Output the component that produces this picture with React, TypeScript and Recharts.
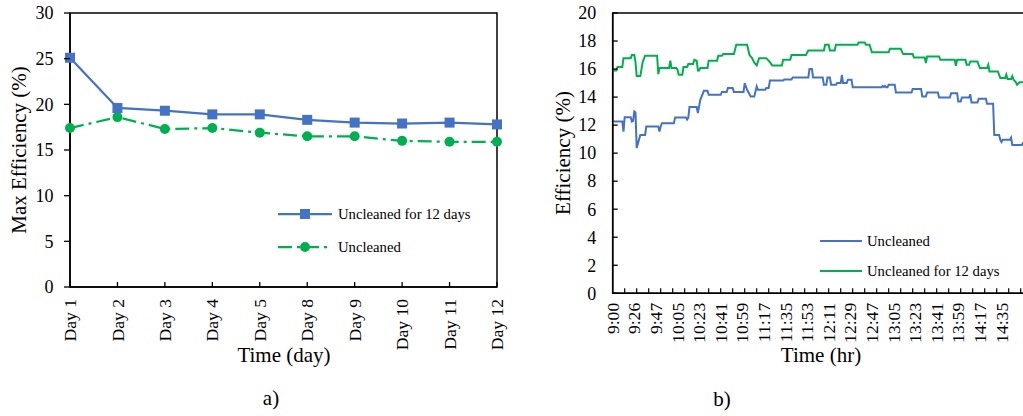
import React from "react"
import { LineChart, Line, XAxis, YAxis, ReferenceArea } from "recharts"

const FONT = '"Liberation Serif", "Times New Roman", serif'
const BLUE = "#4472C4"
const GREEN = "#00B050"

// a) daily maximum efficiency
const days = ["Day 1", "Day 2", "Day 3", "Day 4", "Day 5", "Day 8", "Day 9", "Day 10", "Day 11", "Day 12"]
const uncleaned12Max = [25.1, 19.6, 19.3, 18.9, 18.9, 18.3, 18.0, 17.9, 18.0, 17.8]
const uncleanedMax = [17.4, 18.6, 17.3, 17.4, 16.9, 16.5, 16.5, 16.0, 15.9, 15.9]
const maxTicks = [0, 5, 10, 15, 20, 25, 30]

// b) efficiency over one day, sample index -> efficiency (%)
const timeLabels = [
  "9:00", "9:26", "9:47", "10:05", "10:23", "10:41", "10:59", "11:17", "11:35", "11:53",
  "12:11", "12:29", "12:47", "13:05", "13:23", "13:41", "13:59", "14:17", "14:35",
]
const effTicks = [0, 2, 4, 6, 8, 10, 12, 14, 16, 18, 20]
const LAST_SAMPLE = 345
const LABEL_EVERY = 18
const MARK_EVERY = 10

const uncleanedTrace: [number, number][] = [
  [0, 12.26], [8, 12.26], [9, 11.54], [10, 12.57], [15, 12.57], [16, 12.26], [17, 12.3], [18, 12.97],
  [19, 12.9], [20, 10.36], [22, 11.0], [23, 11.3], [27, 11.3], [28, 11.9], [38, 11.9], [39, 11.54],
  [40, 11.9], [41, 12.14], [51, 12.14], [52, 12.54], [61, 12.54], [62, 12.4], [63, 12.54], [64, 13.29],
  [70, 13.29], [71, 12.86], [73, 13.8], [76, 14.45], [79, 14.45], [80, 14.16], [90, 14.16], [91, 14.36],
  [95, 14.36], [96, 14.64], [100, 14.64], [101, 14.36], [109, 14.36], [110, 15.0], [112, 14.52],
  [115, 14.04], [118, 14.04], [120, 14.76], [121, 14.52], [127, 14.52], [128, 14.64], [130, 14.64],
  [131, 15.19], [142, 15.19], [143, 15.26], [149, 15.26], [150, 15.4], [163, 15.4], [164, 16.0],
  [166, 16.0], [167, 15.4], [175, 15.4], [176, 14.88], [178, 14.88], [179, 15.4], [181, 15.4],
  [182, 14.88], [186, 14.88], [187, 15.0], [190, 15.0], [191, 15.59], [192, 15.0], [195, 15.0],
  [196, 15.24], [199, 15.24], [200, 14.71], [224, 14.71], [225, 14.8], [226, 14.71], [227, 14.8],
  [228, 14.71], [229, 14.71], [230, 14.88], [235, 14.88], [236, 14.33], [249, 14.33], [250, 14.57],
  [257, 14.57], [258, 14.04], [261, 14.04], [262, 14.33], [271, 14.33], [272, 13.97], [281, 13.97],
  [282, 14.28], [287, 14.28], [288, 13.69], [290, 13.69], [291, 13.97], [297, 13.97], [298, 14.2],
  [299, 13.62], [304, 13.62], [305, 13.88], [311, 13.88], [312, 13.52], [317, 13.52], [318, 11.3],
  [322, 11.3], [323, 10.95], [324, 10.8], [325, 10.95], [331, 10.95], [332, 11.1], [333, 10.59],
  [341, 10.59], [342, 10.75], [345, 10.75],
]

const uncleaned12Trace: [number, number][] = [
  [0, 15.9], [3, 15.9], [4, 16.14], [8, 16.14], [9, 16.78], [15, 16.78], [16, 17.0], [18, 17.0],
  [19, 16.5], [20, 15.5], [23, 15.5], [25, 16.5], [27, 16.95], [37, 16.95], [38, 15.64], [39, 16.07],
  [47, 16.07], [48, 16.6], [49, 16.07], [53, 16.07], [54, 15.95], [55, 15.6], [58, 15.6], [59, 16.14],
  [62, 16.14], [63, 16.36], [67, 16.36], [68, 16.66], [70, 16.6], [71, 15.9], [72, 15.9], [73, 16.07],
  [79, 16.07], [80, 16.6], [87, 16.6], [88, 16.95], [91, 16.95], [92, 17.07], [101, 17.07],
  [103, 17.74], [112, 17.74], [114, 17.0], [116, 16.8], [118, 16.45], [120, 16.26], [122, 16.78],
  [128, 16.78], [130, 16.6], [133, 16.26], [141, 16.26], [142, 16.66], [148, 16.66], [149, 17.0],
  [161, 17.0], [163, 17.33], [176, 17.33], [177, 17.74], [180, 17.74], [181, 17.33], [185, 17.33],
  [186, 17.74], [204, 17.74], [205, 17.9], [210, 17.9], [211, 17.74], [214, 17.74], [216, 17.2],
  [230, 17.2], [231, 17.45], [240, 17.45], [242, 17.07], [250, 17.07], [251, 16.83], [260, 16.83],
  [261, 16.43], [262, 16.9], [272, 16.9], [273, 16.66], [285, 16.66], [286, 16.23], [287, 16.66],
  [294, 16.66], [295, 16.3], [297, 16.3], [298, 16.54], [304, 16.54], [305, 16.3], [306, 16.07],
  [312, 16.07], [313, 16.3], [314, 15.83], [321, 15.83], [323, 15.36], [327, 15.36], [328, 15.6],
  [329, 15.29], [332, 15.29], [333, 15.5], [334, 15.25], [336, 15.05], [337, 14.88], [339, 15.05],
  [345, 15.05],
]

const dailyData = days.map((day, i) => ({ day, clean12: uncleaned12Max[i], unclean: uncleanedMax[i] }))
const toPoints = (trace: [number, number][]) => trace.map(([i, v]) => ({ i, v }))

// one tick list: marks every 10 samples, labels every 18
const sampleTicks = Array.from(
  new Set([
    ...timeLabels.map((_, k) => k * LABEL_EVERY),
    ...Array.from({ length: Math.floor(LAST_SAMPLE / MARK_EVERY) }, (_, k) => (k + 1) * MARK_EVERY),
  ])
).sort((a, b) => a - b)

const makeYTick = (inward: boolean) => ({ x, y, payload }: any) => (
  <g>
    <line x1={x} x2={inward ? x + 5 : x - 6} y1={y} y2={y} stroke="#000" strokeWidth={1.3} />
    <text x={x - 16.5} y={y} dy="0.35em" textAnchor="end" fontFamily={FONT} fontSize={18} fill="#000">
      {payload.value}
    </text>
  </g>
)

const DayTick = ({ x, y, payload }: any) => (
  <g>
    <line x1={x} x2={x} y1={y} y2={y - 5} stroke="#000" strokeWidth={1.3} />
    <text
      x={x}
      y={y + 12}
      dy="0.35em"
      textAnchor="end"
      transform={`rotate(-90 ${x} ${y + 12})`}
      fontFamily={FONT}
      fontSize={17.6}
      fill="#000"
    >
      {payload.value}
    </text>
  </g>
)

const TimeTick = ({ x, y, payload }: any) => {
  const v = payload.value as number
  return (
    <g>
      {v > 0 && v % MARK_EVERY === 0 && (
        <line x1={x} x2={x} y1={y} y2={y - 5} stroke="#000" strokeWidth={1.2} />
      )}
      {v % LABEL_EVERY === 0 && (
        <text
          x={x}
          y={y + 9.5}
          dy="0.35em"
          textAnchor="end"
          transform={`rotate(-90 ${x} ${y + 9.5})`}
          fontFamily={FONT}
          fontSize={17.6}
          fill="#000"
        >
          {timeLabels[v / LABEL_EVERY]}
        </text>
      )}
    </g>
  )
}

const SquareDot = (p: any) => (
  <rect key={`sq-${p.index}`} x={p.cx - 5} y={p.cy - 5} width={10} height={10} fill={BLUE} />
)
const RoundDot = (p: any) => <circle key={`ci-${p.index}`} cx={p.cx} cy={p.cy} r={5} fill={GREEN} />

const axisLine = { stroke: "#000", strokeWidth: 1.5 }
const textStyle = { fontFamily: FONT, fill: "#000" }

export default function App() {
  return (
    <div
      style={{
        position: "absolute",
        left: 0,
        top: 0,
        width: 1023,
        height: 416,
        overflow: "hidden",
        background: "#fff",
      }}
    >
      <div style={{ position: "absolute", left: 0, top: 0 }}>
        <LineChart width={520} height={416} data={dailyData} margin={{ top: 13, right: 23, left: 10, bottom: 69 }}>
          <XAxis
            dataKey="day"
            height={60}
            axisLine={axisLine}
            tickLine={false}
            tickSize={0}
            tickMargin={0}
            interval={0}
            tick={DayTick}
          />
          <YAxis
            width={60}
            domain={[0, 30]}
            ticks={maxTicks}
            axisLine={axisLine}
            tickLine={false}
            tickSize={0}
            tickMargin={0}
            interval={0}
            tick={makeYTick(false)}
          />
          <ReferenceArea x1="Day 1" x2="Day 12" y1={0} y2={30} fill="none" stroke="#000" strokeWidth={1.5} />
          <Line
            dataKey="unclean"
            stroke={GREEN}
            strokeWidth={2.25}
            strokeDasharray="14 5 3 5"
            dot={RoundDot}
            isAnimationActive={false}
          />
          <Line dataKey="clean12" stroke={BLUE} strokeWidth={2.25} dot={SquareDot} isAnimationActive={false} />
        </LineChart>
      </div>

      <div style={{ position: "absolute", left: 540, top: 0 }}>
        <LineChart width={500} height={416} margin={{ top: 13, right: 13.3, left: 12.7, bottom: 62.7 }}>
          <XAxis
            type="number"
            dataKey="i"
            domain={[0, LAST_SAMPLE]}
            allowDataOverflow
            ticks={sampleTicks}
            height={60}
            axisLine={axisLine}
            tickLine={false}
            tickSize={0}
            tickMargin={0}
            interval={0}
            tick={TimeTick}
          />
          <YAxis
            width={60}
            domain={[0, 20]}
            ticks={effTicks}
            axisLine={axisLine}
            tickLine={false}
            tickSize={0}
            tickMargin={0}
            interval={0}
            tick={makeYTick(true)}
          />
          <ReferenceArea x1={0} x2={LAST_SAMPLE} y1={0} y2={20} fill="none" stroke="#000" strokeWidth={1.5} />
          <Line
            data={toPoints(uncleaned12Trace)}
            dataKey="v"
            stroke={GREEN}
            strokeWidth={2}
            dot={false}
            isAnimationActive={false}
          />
          <Line
            data={toPoints(uncleanedTrace)}
            dataKey="v"
            stroke={BLUE}
            strokeWidth={2}
            dot={false}
            isAnimationActive={false}
          />
        </LineChart>
      </div>

      {/* titles, captions and legends */}
      <svg
        width={1023}
        height={416}
        style={{ position: "absolute", left: 0, top: 0, pointerEvents: "none" }}
      >
        <text x={19} y={150} transform="rotate(-90 19 150)" textAnchor="middle" dominantBaseline="central" fontSize={21} {...textStyle}>
          Max Efficiency (%)
        </text>
        <text x={284} y={355} textAnchor="middle" dominantBaseline="central" fontSize={21} {...textStyle}>
          Time (day)
        </text>
        <text x={271} y={398} textAnchor="middle" dominantBaseline="central" fontSize={21} {...textStyle}>
          a)
        </text>

        <text x={563} y={153} transform="rotate(-90 563 153)" textAnchor="middle" dominantBaseline="central" fontSize={21} {...textStyle}>
          Efficiency (%)
        </text>
        <text x={821} y={355} textAnchor="middle" dominantBaseline="central" fontSize={21} {...textStyle}>
          Time (hr)
        </text>
        <text x={722} y={399} textAnchor="middle" dominantBaseline="central" fontSize={21} {...textStyle}>
          b)
        </text>

        <g>
          <line x1={278} x2={332} y1={214} y2={214} stroke={BLUE} strokeWidth={2.25} />
          <rect x={300} y={209} width={10} height={10} fill={BLUE} />
          <text x={338} y={214} dominantBaseline="central" fontSize={14.7} {...textStyle}>
            Uncleaned for 12 days
          </text>
          <line x1={278} x2={332} y1={247} y2={247} stroke={GREEN} strokeWidth={2.25} strokeDasharray="14 5 3 5" />
          <circle cx={305} cy={247} r={5} fill={GREEN} />
          <text x={338} y={247} dominantBaseline="central" fontSize={14.7} {...textStyle}>
            Uncleaned
          </text>
        </g>

        <g>
          <line x1={820} x2={862} y1={241} y2={241} stroke={BLUE} strokeWidth={2} />
          <text x={867} y={241} dominantBaseline="central" fontSize={14.7} {...textStyle}>
            Uncleaned
          </text>
          <line x1={820} x2={862} y1={271} y2={271} stroke={GREEN} strokeWidth={2} />
          <text x={867} y={271} dominantBaseline="central" fontSize={14.7} {...textStyle}>
            Uncleaned for 12 days
          </text>
        </g>
      </svg>
    </div>
  )
}
